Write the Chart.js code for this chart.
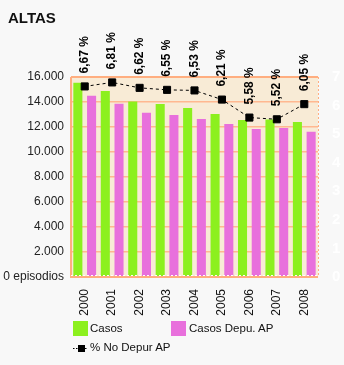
<!DOCTYPE html>
<html>
<head>
<meta charset="utf-8">
<script src="https://cdn.jsdelivr.net/npm/chart.js@4/dist/chart.umd.min.js"></script>
<style>
  body { margin: 0; background: #f8f8f8; font-family: "Liberation Sans", Arial, sans-serif; }
  #wrap { position: relative; width: 344px; height: 365px; }
  #c { position: absolute; left: 0; top: 0; }
  .title { position: absolute; left: 8px; top: 9px; font-weight: bold; font-size: 15px; color: #111; }
  .lg { position: absolute; font-size: 11.5px; color: #111; }
  .sw { position: absolute; width: 15px; height: 15px; }
</style>
</head>
<body>
<div id="wrap">
  <canvas id="c" width="344" height="365"></canvas>
  <div class="title">ALTAS</div>
  <div class="sw" style="left:73px;top:321px;background:#8cf01e"></div>
  <div class="lg" style="left:90px;top:322px">Casos</div>
  <div class="sw" style="left:171px;top:321px;background:#e870dc"></div>
  <div class="lg" style="left:189px;top:322px">Casos Depu. AP</div>
  <canvas id="lgline" width="14" height="10" style="position:absolute;left:73px;top:343px"></canvas>
  <div class="lg" style="left:90px;top:341px">% No Depur AP</div>
</div>
<script>
const years = ["2000", "2001", "2002", "2003", "2004", "2005", "2006", "2007", "2008"];
const casos = [15550, 14880, 14050, 13840, 13520, 13040, 12560, 12610, 12400];
const casosDepu = [14500, 13870, 13150, 12960, 12640, 12240, 11840, 11920, 11630];
const pctNoDepur = [6.67, 6.81, 6.62, 6.55, 6.53, 6.21, 5.58, 5.52, 6.05];

// legend icon for the line series
(function () {
  const g = document.getElementById('lgline').getContext('2d');
  g.fillStyle = '#000';
  for (let x = 0; x < 14; x += 3) g.fillRect(x, 5, 1.5, 1);
  g.fillRect(5, 2, 7, 7);
})();

const plotDecor = {
  id: 'plotDecor',
  beforeDraw(chart) {
    const a = chart.chartArea, ctx = chart.ctx;
    ctx.save();
    ctx.fillStyle = '#f8ebd6';
    ctx.fillRect(a.left, a.top, a.right - a.left, a.bottom - a.top);
    ctx.restore();
  },
  afterDatasetsDraw(chart) {
    const a = chart.chartArea, ctx = chart.ctx;
    ctx.save();
    ctx.strokeStyle = '#ffae80';
    ctx.lineWidth = 2;
    ctx.beginPath();
    ctx.moveTo(a.left, a.top); ctx.lineTo(a.left, a.bottom); ctx.lineTo(a.right, a.bottom);
    ctx.moveTo(a.left, a.top); ctx.lineTo(a.right, a.top);
    ctx.stroke();
    ctx.lineWidth = 1;
    ctx.setLineDash([2, 2]);
    ctx.beginPath();
    ctx.moveTo(a.right + 0.5, a.top); ctx.lineTo(a.right + 0.5, a.bottom);
    ctx.stroke();
    ctx.strokeStyle = '#ffffff';
    ctx.beginPath();
    ctx.moveTo(a.left, a.bottom - 1.5); ctx.lineTo(a.right, a.bottom - 1.5);
    ctx.stroke();
    ctx.restore();

    // rotated value labels above the line points
    const meta = chart.getDatasetMeta(2);
    ctx.save();
    ctx.fillStyle = '#000';
    ctx.font = 'bold 12px "Liberation Sans", Arial, sans-serif';
    ctx.textAlign = 'left';
    ctx.textBaseline = 'middle';
    meta.data.forEach((pt, i) => {
      ctx.save();
      ctx.translate(pt.x, pt.y - 13);
      ctx.rotate(-Math.PI / 2);
      ctx.fillText(pctNoDepur[i].toFixed(2).replace('.', ',') + ' %', 0, 0);
      ctx.restore();
    });
    ctx.restore();
  }
};

new Chart(document.getElementById('c'), {
  type: 'bar',
  data: {
    labels: years,
    datasets: [
      { label: 'Casos', data: casos, backgroundColor: '#8cf01e', yAxisID: 'y', order: 2,
        barPercentage: 0.66, categoryPercentage: 1 },
      { label: 'Casos Depu. AP', data: casosDepu, backgroundColor: '#e870dc', yAxisID: 'y', order: 2,
        barPercentage: 0.66, categoryPercentage: 1 },
      { type: 'line', label: '% No Depur AP', data: pctNoDepur, yAxisID: 'y2', order: 0,
        borderColor: '#000', borderWidth: 1, borderDash: [3, 3], backgroundColor: '#000',
        pointStyle: 'rect', pointRadius: 5, pointHoverRadius: 5, tension: 0 }
    ]
  },
  options: {
    responsive: false,
    animation: false,
    layout: { padding: { top: 77, left: 0, right: 0, bottom: 0 } },
    plugins: { legend: { display: false }, tooltip: { enabled: false } },
    scales: {
      x: {
        grid: { display: false },
        border: { display: false },
        ticks: { color: '#111', font: { size: 12, family: '"Liberation Sans", Arial' },
          maxRotation: 90, minRotation: 90, padding: 4 },
        afterFit(s) { s.height = 88; }
      },
      y: {
        position: 'left',
        min: 0, max: 16000,
        ticks: { stepSize: 2000, color: '#222', padding: 7,
          font: { size: 12, family: '"Liberation Sans", Arial' },
          callback: v => v === 0 ? '0 episodios' : v.toLocaleString('de-DE') },
        grid: { color: '#ffb890', lineWidth: 1.5, drawTicks: false },
        border: { display: false },
        afterFit(s) { s.width = 71; }
      },
      y2: {
        position: 'right',
        min: 0, max: 7,
        ticks: { stepSize: 1, color: '#ffffff', padding: 6,
          font: { size: 15, weight: 'bold', family: '"Liberation Sans", Arial' } },
        grid: { display: false },
        border: { display: false },
        afterFit(s) { s.width = 26; }
      }
    }
  },
  plugins: [plotDecor]
});
</script>
</body>
</html>
